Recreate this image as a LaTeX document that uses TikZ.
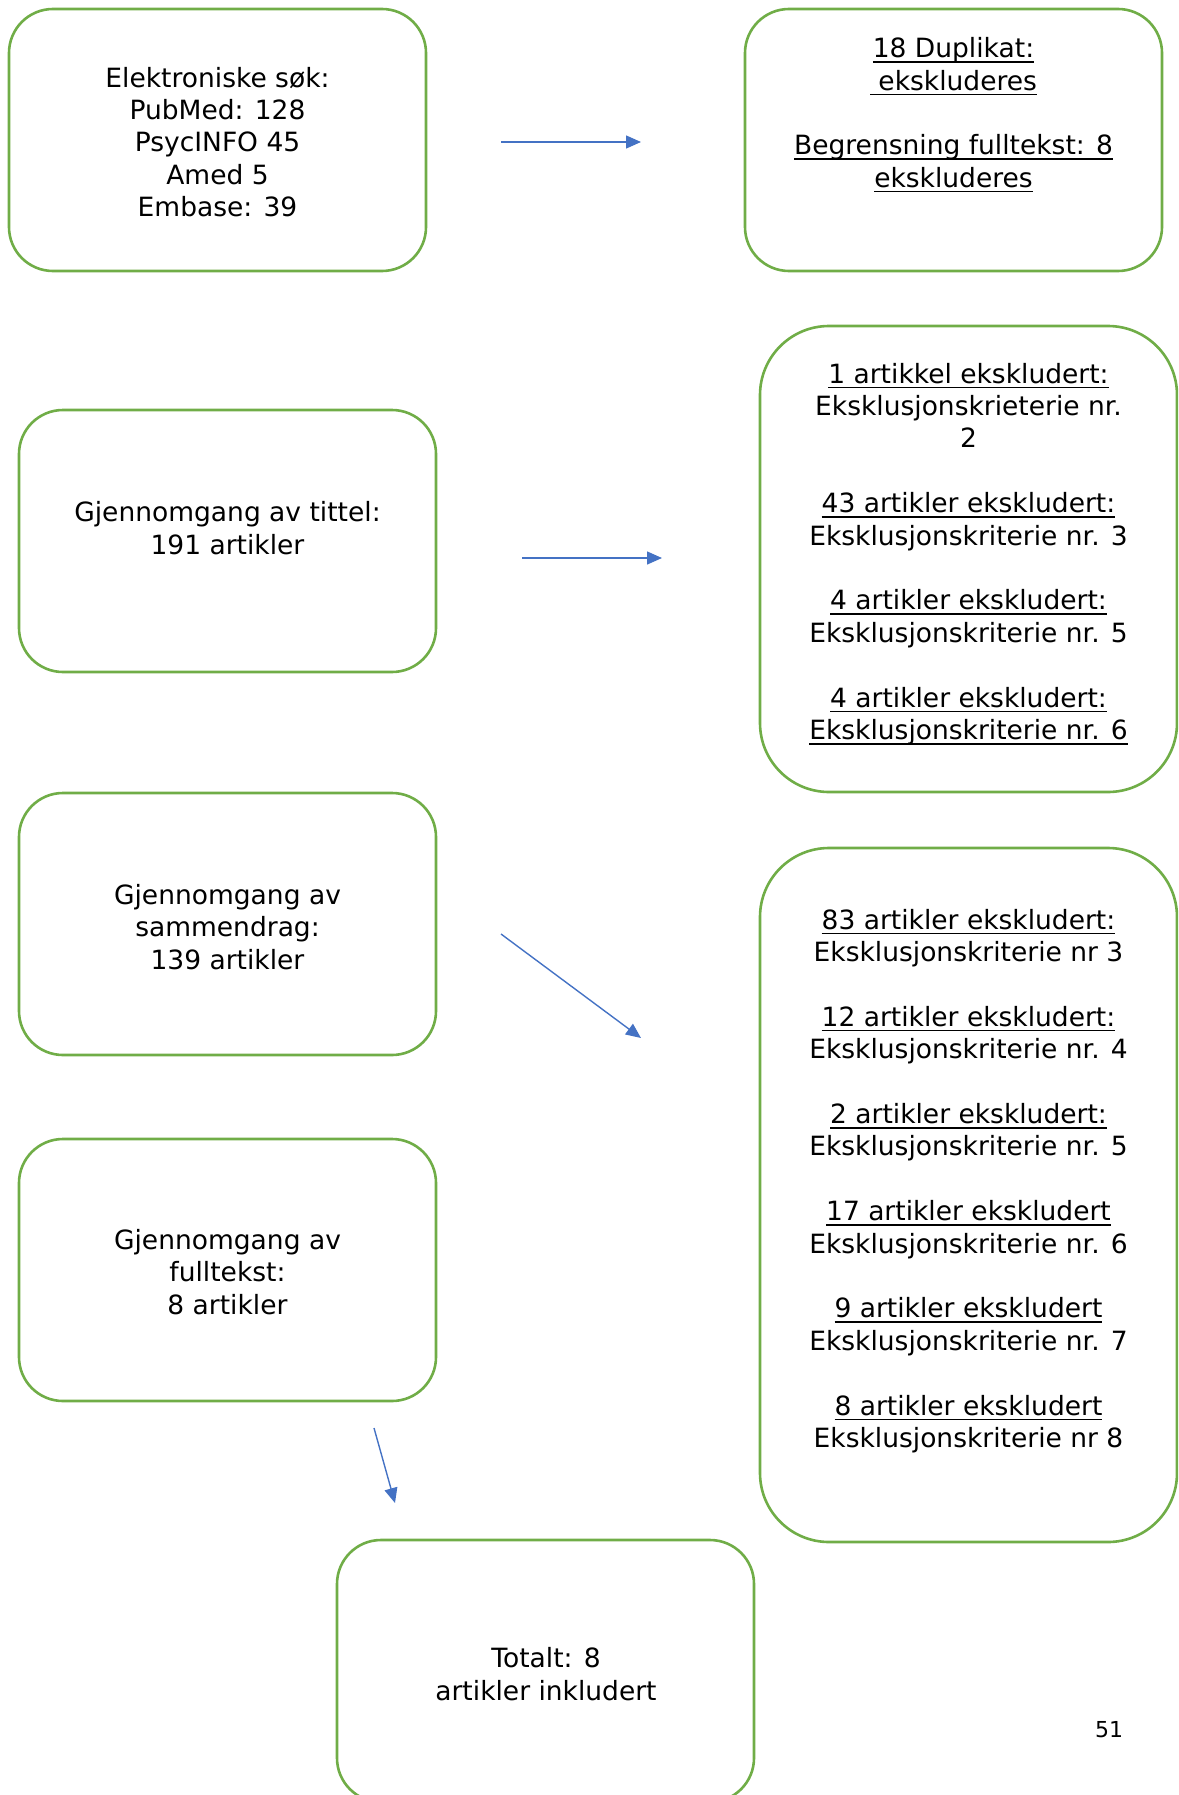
\documentclass[tikz,border=0pt]{standalone}
\usepackage{fontspec}
\setmainfont{DejaVu Sans}
\newcommand\myul[1]{\setbox0\hbox{#1}\rlap{\rule[-5pt]{\wd0}{1.6pt}}\box0}
\usetikzlibrary{arrows.meta}
\definecolor{boxgreen}{HTML}{70AD47}
\definecolor{arrowblue}{HTML}{4472C4}
\begin{document}
\begin{tikzpicture}[x=1pt,y=-1pt,
  box/.style={draw=boxgreen, line width=2.6pt, rectangle, inner sep=0pt},
  smallbox/.style={box, minimum width=417pt, minimum height=262pt, rounded corners=44pt},
  bigbox/.style={box, rounded corners=69pt},
  txt/.style={align=center, inner sep=0pt, font=\fontsize{26.5}{32.4}\selectfont},
  flow/.style={draw=arrowblue, line width=1.4pt, -{Triangle[length=15pt,width=13pt]}}]
\useasboundingbox (0,0) rectangle (1178,1795);
\clip (0,0) rectangle (1178,1795);
% boxes
\node[smallbox] (b1) at (217.5,140) {};
\node[smallbox] (b2) at (953.5,140) {};
\node[smallbox] (b3) at (227.5,541) {};
\node[bigbox, minimum width=417pt, minimum height=466pt] (b4) at (968.5,559) {};
\node[smallbox] (b5) at (227.5,924) {};
\node[bigbox, minimum width=417pt, minimum height=694pt] (b6) at (968.5,1195) {};
\node[smallbox] (b7) at (227.5,1270) {};
\node[smallbox] (b8) at (545.5,1671) {};
% texts
\node[txt] (t1) at (217.5,142) {Elektroniske søk:\\PubMed: 128\\PsycINFO 45\\Amed 5\\Embase: 39};
\node[txt] (t2) at (953.5,115) {\myul{18 Duplikat:}\\\myul{\ ekskluderes}\\[32.4pt]\myul{Begrensning fulltekst: 8}\\\myul{ekskluderes}};
\node[txt] (t3) at (227.5,528) {Gjennomgang av tittel:\\191 artikler};
\node[txt] (t4) at (968.5,554) {\myul{1 artikkel ekskludert:}\\Eksklusjonskrieterie nr.\\2\\[32.4pt]\myul{43 artikler ekskludert:}\\Eksklusjonskriterie nr. 3\\[32.4pt]\myul{4 artikler ekskludert:}\\Eksklusjonskriterie nr. 5\\[32.4pt]\myul{4 artikler ekskludert:}\\\myul{Eksklusjonskriterie nr. 6}};
\node[txt] (t5) at (227.5,927) {Gjennomgang av\\sammendrag:\\139 artikler};
\node[txt] (t6) at (968.5,1181) {\myul{83 artikler ekskludert:}\\Eksklusjonskriterie nr 3\\[32.4pt]\myul{12 artikler ekskludert:}\\Eksklusjonskriterie nr. 4\\[32.4pt]\myul{2 artikler ekskludert:}\\Eksklusjonskriterie nr. 5\\[32.4pt]\myul{17 artikler ekskludert}\\Eksklusjonskriterie nr. 6\\[32.4pt]\myul{9 artikler ekskludert}\\Eksklusjonskriterie nr. 7\\[32.4pt]\myul{8 artikler ekskludert}\\Eksklusjonskriterie nr 8};
\node[txt] (t7) at (227.5,1272) {Gjennomgang av\\fulltekst:\\8 artikler};
\node[txt] (t8) at (546,1674) {Totalt: 8\\artikler inkludert};
\node[inner sep=0pt, font=\fontsize{22}{26}\selectfont] (pg) at (1109,1730) {51};
% arrows
\coordinate (a1s) at (501,142); \coordinate (a1e) at (641,142);
\coordinate (a2s) at (522,558); \coordinate (a2e) at (662,558);
\coordinate (a3s) at (501,934); \coordinate (a3e) at (641,1038);
\coordinate (a4s) at (374,1428); \coordinate (a4e) at (395,1503);
\draw[flow] (a1s) -- (a1e);
\draw[flow] (a2s) -- (a2e);
\draw[flow] (a3s) -- (a3e);
\draw[flow] (a4s) -- (a4e);
\end{tikzpicture}
\end{document}
